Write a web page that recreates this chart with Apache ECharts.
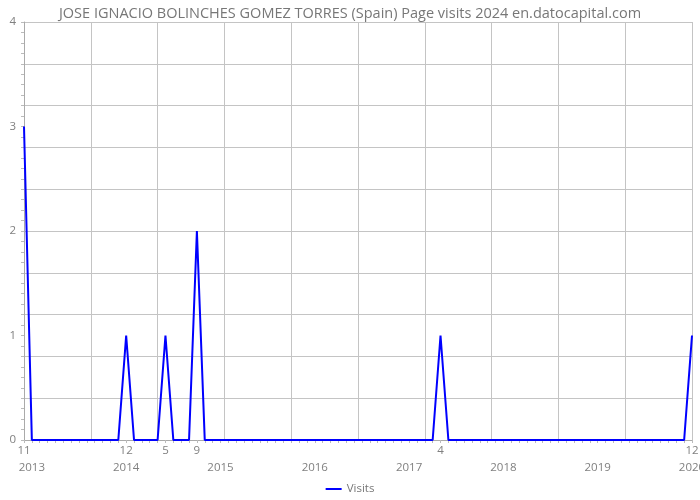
<!DOCTYPE html>
<html><head><meta charset="utf-8">
<script src="https://cdn.jsdelivr.net/npm/echarts@6/dist/echarts.min.js"></script>
<style>html,body{margin:0;padding:0;background:#fff}#c{width:700px;height:500px}</style>
</head><body><div id="c"></div>
<script>
var titleText = "JOSE IGNACIO BOLINCHES GOMEZ TORRES (Spain) Page visits 2024 en.datocapital.com";
var months = [
"2013-11","2013-12",
"2014-01","2014-02","2014-03","2014-04","2014-05","2014-06","2014-07","2014-08","2014-09","2014-10","2014-11","2014-12",
"2015-01","2015-02","2015-03","2015-04","2015-05","2015-06","2015-07","2015-08","2015-09","2015-10","2015-11","2015-12",
"2016-01","2016-02","2016-03","2016-04","2016-05","2016-06","2016-07","2016-08","2016-09","2016-10","2016-11","2016-12",
"2017-01","2017-02","2017-03","2017-04","2017-05","2017-06","2017-07","2017-08","2017-09","2017-10","2017-11","2017-12",
"2018-01","2018-02","2018-03","2018-04","2018-05","2018-06","2018-07","2018-08","2018-09","2018-10","2018-11","2018-12",
"2019-01","2019-02","2019-03","2019-04","2019-05","2019-06","2019-07","2019-08","2019-09","2019-10","2019-11","2019-12",
"2020-01","2020-02","2020-03","2020-04","2020-05","2020-06","2020-07","2020-08","2020-09","2020-10","2020-11","2020-12"
];
var visits = [
3,0,
0,0,0,0,0,0,0,0,0,0,0,1,
0,0,0,0,1,0,0,0,2,0,0,0,
0,0,0,0,0,0,0,0,0,0,0,0,
0,0,0,0,0,0,0,0,0,0,0,0,
0,0,0,1,0,0,0,0,0,0,0,0,
0,0,0,0,0,0,0,0,0,0,0,0,
0,0,0,0,0,0,0,0,0,0,0,1
];
var monthLabelAt = ["2013-11","2014-12","2015-05","2015-09","2018-04","2020-12"];
var yearLabelAt = ["2013-12","2014-12","2015-12","2016-12","2017-12","2018-12","2019-12","2020-12"];
var yTickLabels = [0,1,2,3,4];

var gray = '#808080';
var chart = echarts.init(document.getElementById('c'));
chart.setOption({
  animation: false,
  title: {text: titleText, left: 'center', top: 1,
    textStyle: {fontFamily: 'Open Sans', fontSize: 14.5, fontWeight: 'normal', color: '#777'}},
  legend: {bottom: 0, left: 'center', itemWidth: 16, itemHeight: 2,
    textStyle: {fontFamily: 'Open Sans', fontSize: 11.5, color: '#777'},
    data: [{name: 'Visits', icon: 'rect'}]},
  grid: {left: 24, right: 8, top: 22, bottom: 60, outerBoundsMode: 'none', containLabel: false},
  xAxis: [
    {type: 'category', data: months, boundaryGap: false, position: 'bottom',
      axisLine: {lineStyle: {color: '#aaa'}},
      axisTick: {show: true, interval: 0, length: 3, lineStyle: {color: '#bbb'}},
      splitLine: {show: false},
      axisLabel: {interval: 0, color: gray, fontFamily: 'Open Sans', fontSize: 11.5, margin: 5,
        formatter: function (v) { return monthLabelAt.indexOf(v) >= 0 ? String(parseInt(v.slice(5), 10)) : ''; }}},
    {type: 'category', data: months, boundaryGap: false, position: 'bottom', offset: 16,
      axisLine: {show: false},
      axisTick: {show: true, interval: 0, length: 3, lineStyle: {color: '#bbb'}},
      splitLine: {show: false},
      axisLabel: {interval: 0, color: gray, fontFamily: 'Open Sans', fontSize: 11.5, margin: 6,
        formatter: function (v) { return yearLabelAt.indexOf(v) >= 0 ? v.slice(0, 4) : ''; }}},
    {type: 'value', min: 0, max: 10, interval: 1, position: 'top',
      axisLine: {show: false}, axisTick: {show: false}, axisLabel: {show: false},
      splitLine: {show: true, lineStyle: {color: '#c4c4c4', width: 1}}}
  ],
  yAxis: [
    {type: 'value', min: 0, max: 4, interval: 1,
      axisLine: {show: true, lineStyle: {color: '#aaa'}},
      axisTick: {show: true, length: 3, lineStyle: {color: '#bbb'}},
      minorTick: {show: true, splitNumber: 10, length: 3, lineStyle: {color: '#bbb'}},
      splitLine: {show: false},
      axisLabel: {color: gray, fontFamily: 'Open Sans', fontSize: 11.5, margin: 8,
        formatter: function (v) { return yTickLabels.indexOf(v) >= 0 ? String(v) : ''; }}},
    {type: 'value', min: 0, max: 4, interval: 0.4, position: 'left',
      axisLine: {show: false}, axisTick: {show: false}, axisLabel: {show: false},
      splitLine: {show: true, lineStyle: {color: '#c4c4c4', width: 1}}}
  ],
  series: [{name: 'Visits', type: 'line', data: visits, xAxisIndex: 0, yAxisIndex: 0,
    symbol: 'none', lineStyle: {color: '#0000ff', width: 2}, itemStyle: {color: '#0000ff'}}]
});
</script></body></html>
